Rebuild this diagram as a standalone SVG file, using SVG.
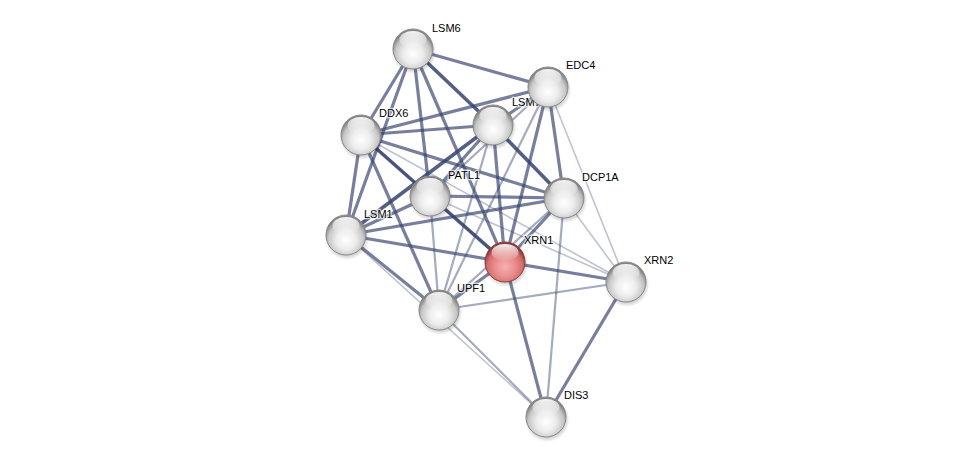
<svg xmlns="http://www.w3.org/2000/svg" width="976" height="462" viewBox="0 0 976 462">
<style>
.e{fill:none;stroke:#37426e;stroke-linecap:butt}
.e1{stroke-width:3.6;stroke-opacity:0.85}
.e2{stroke-width:3.2;stroke-opacity:0.68}
.e3{stroke-width:2.2;stroke-opacity:0.45}
.e4{stroke-width:1.6;stroke-opacity:0.32}
.lbl{font-family:"Liberation Sans",Arial,sans-serif;font-size:11px;fill:#000;paint-order:stroke;stroke:#fff;stroke-width:2.5px;stroke-opacity:0.7}
</style>
<defs>
<radialGradient id="gGray" cx="50%" cy="62%" r="55%">
<stop offset="0%" stop-color="#ffffff"/>
<stop offset="45%" stop-color="#ececec"/>
<stop offset="80%" stop-color="#c6c6c6"/>
<stop offset="100%" stop-color="#858585"/>
</radialGradient>
<radialGradient id="gRed" cx="50%" cy="62%" r="55%">
<stop offset="0%" stop-color="#f7b0b0"/>
<stop offset="45%" stop-color="#ea8f8f"/>
<stop offset="80%" stop-color="#d46d6d"/>
<stop offset="100%" stop-color="#8e3c3c"/>
</radialGradient>
<linearGradient id="gHi" x1="0" y1="0" x2="0" y2="1">
<stop offset="0%" stop-color="#ffffff" stop-opacity="0.95"/>
<stop offset="100%" stop-color="#ffffff" stop-opacity="0"/>
</linearGradient>
<radialGradient id="gSh" cx="50%" cy="50%" r="50%">
<stop offset="72%" stop-color="#000" stop-opacity="0.25"/>
<stop offset="100%" stop-color="#000" stop-opacity="0"/>
</radialGradient>
<g id="ball">
<circle cx="1" cy="2.5" r="22.5" fill="url(#gSh)"/>
<circle r="20" fill="url(#gGray)" stroke="#8a8a8a" stroke-width="1"/>
<ellipse cx="0" cy="-9.5" rx="13.5" ry="8.5" fill="url(#gHi)"/>
</g>
<g id="ballRed">
<circle cx="1" cy="2.5" r="22.5" fill="url(#gSh)"/>
<circle r="20" fill="url(#gRed)" stroke="#8e3c3c" stroke-width="1"/>
<ellipse cx="0" cy="-9.5" rx="13.5" ry="8.5" fill="url(#gHi)"/>
</g>
</defs>
<rect width="976" height="462" fill="#fff"/>
<g id="edges">
<line class="e e2" x1="413" y1="49" x2="548" y2="87"/>
<line class="e e2" x1="413" y1="49" x2="361" y2="135"/>
<line class="e e2" x1="413" y1="49" x2="346" y2="235"/>
<line class="e e2" x1="413" y1="49" x2="430" y2="196"/>
<line class="e e1" x1="413" y1="49" x2="493" y2="125"/>
<line class="e e2" x1="413" y1="49" x2="505" y2="262"/>
<line class="e e2" x1="361" y1="135" x2="548" y2="87"/>
<line class="e e2" x1="361" y1="135" x2="493" y2="125"/>
<line class="e e2" x1="361" y1="135" x2="346" y2="235"/>
<line class="e e1" x1="361" y1="135" x2="430" y2="196"/>
<line class="e e3" x1="361" y1="135" x2="505" y2="262"/>
<line class="e e2" x1="361" y1="135" x2="564" y2="198"/>
<line class="e e2" x1="361" y1="135" x2="439" y2="310"/>
<line class="e e4" x1="361" y1="135" x2="626" y2="282"/>
<line class="e e2" x1="548" y1="87" x2="493" y2="125"/>
<line class="e e2" x1="548" y1="87" x2="564" y2="198"/>
<line class="e e2" x1="548" y1="87" x2="505" y2="262"/>
<line class="e e3" x1="548" y1="87" x2="430" y2="196"/>
<line class="e e4" x1="548" y1="87" x2="626" y2="282"/>
<line class="e e3" x1="548" y1="87" x2="439" y2="310"/>
<line class="e e2" x1="493" y1="125" x2="430" y2="196"/>
<line class="e e2" x1="493" y1="125" x2="505" y2="262"/>
<line class="e e3" x1="493" y1="125" x2="439" y2="310"/>
<line class="e e1" x1="493" y1="125" x2="564" y2="198"/>
<line class="e e1" x1="493" y1="125" x2="346" y2="235"/>
<line class="e e2" x1="430" y1="196" x2="564" y2="198"/>
<line class="e e2" x1="430" y1="196" x2="346" y2="235"/>
<line class="e e1" x1="430" y1="196" x2="505" y2="262"/>
<line class="e e3" x1="430" y1="196" x2="439" y2="310"/>
<line class="e e4" x1="430" y1="196" x2="626" y2="282"/>
<line class="e e2" x1="564" y1="198" x2="346" y2="235"/>
<line class="e e2" x1="564" y1="198" x2="505" y2="262"/>
<line class="e e4" x1="564" y1="198" x2="626" y2="282"/>
<line class="e e3" x1="564" y1="198" x2="439" y2="310"/>
<line class="e e3" x1="564" y1="198" x2="546" y2="417"/>
<line class="e e2" x1="346" y1="235" x2="505" y2="262"/>
<line class="e e2" x1="346" y1="235" x2="439" y2="310"/>
<line class="e e4" x1="346" y1="235" x2="546" y2="417"/>
<line class="e e2" x1="505" y1="262" x2="626" y2="282"/>
<line class="e e2" x1="505" y1="262" x2="439" y2="310"/>
<line class="e e2" x1="505" y1="262" x2="546" y2="417"/>
<line class="e e3" x1="626" y1="282" x2="439" y2="310"/>
<line class="e e2" x1="626" y1="282" x2="546" y2="417"/>
<line class="e e3" x1="439" y1="310" x2="546" y2="417"/>
</g>
<g id="node-LSM6"><use href="#ball" x="413" y="49"/><text class="lbl" x="432" y="32">LSM6</text></g>
<g id="node-DDX6"><use href="#ball" x="361" y="135"/><text class="lbl" x="379" y="117">DDX6</text></g>
<g id="node-LSM7"><use href="#ball" x="493" y="125"/><text class="lbl" x="512" y="106">LSM7</text></g>
<g id="node-EDC4"><use href="#ball" x="548" y="87"/><text class="lbl" x="566" y="69">EDC4</text></g>
<g id="node-PATL1"><use href="#ball" x="430" y="196"/><text class="lbl" x="448" y="179">PATL1</text></g>
<g id="node-DCP1A"><use href="#ball" x="564" y="198"/><text class="lbl" x="582" y="181">DCP1A</text></g>
<g id="node-LSM1"><use href="#ball" x="346" y="235"/><text class="lbl" x="364" y="218">LSM1</text></g>
<g id="node-XRN2"><use href="#ball" x="626" y="282"/><text class="lbl" x="644" y="264">XRN2</text></g>
<g id="node-UPF1"><use href="#ball" x="439" y="310"/><text class="lbl" x="457" y="292">UPF1</text></g>
<g id="node-XRN1"><use href="#ballRed" x="505" y="262"/><text class="lbl" x="524" y="244">XRN1</text></g>
<g id="node-DIS3"><use href="#ball" x="546" y="417"/><text class="lbl" x="564" y="399">DIS3</text></g>
</svg>
